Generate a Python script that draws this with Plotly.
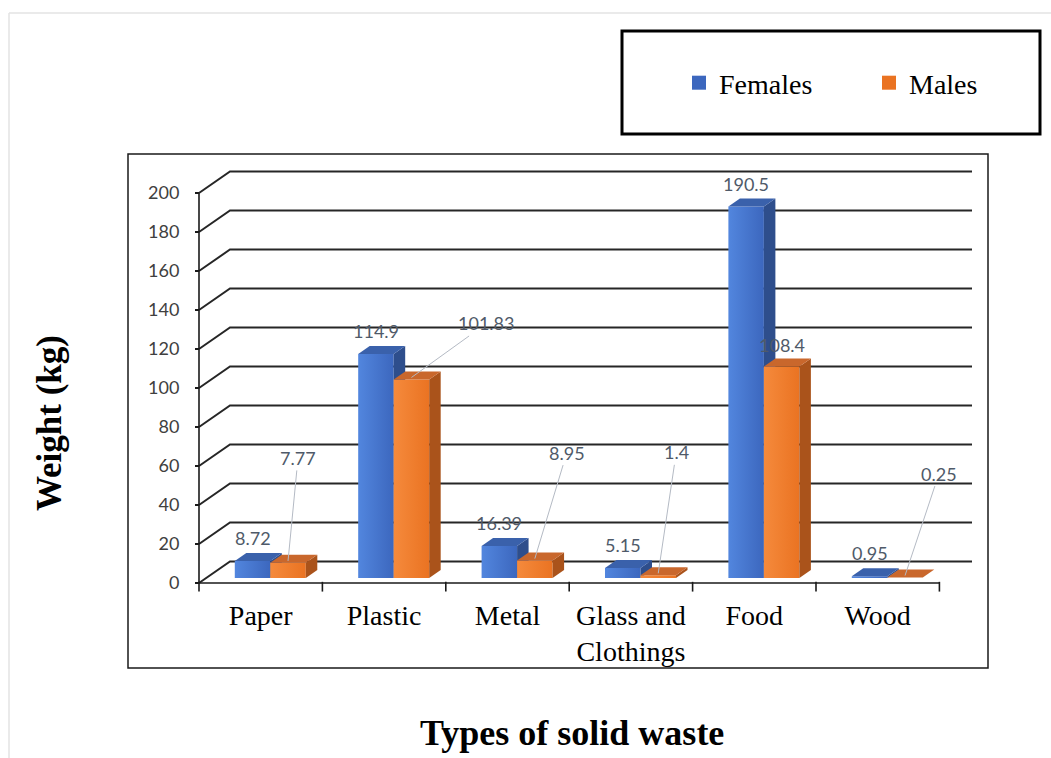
import plotly.graph_objects as go

# ---- data -------------------------------------------------------------
categories = ["Paper", "Plastic", "Metal", "Glass and<br>Clothings", "Food", "Wood"]
females = [8.72, 114.9, 16.39, 5.15, 190.5, 0.95]
males = [7.77, 101.83, 8.95, 1.4, 108.4, 0.25]
value_ticks = [0, 20, 40, 60, 80, 100, 120, 140, 160, 180, 200]

# ---- canvas / axis geometry ------------------------------------------
W, H = 1051, 758
M_L, M_R, M_T, M_B = 128, 63, 154, 90
X_RANGE = [-1.0754, 5.8938]
Y_RANGE = [-43.59, 220.0]
PLOT_W = W - M_L - M_R
PLOT_H = H - M_T - M_B
PX_X = PLOT_W / (X_RANGE[1] - X_RANGE[0])   # pixels per category unit
PX_Y = PLOT_H / (Y_RANGE[1] - Y_RANGE[0])   # pixels per kg

X0 = -0.5                                   # front-left corner of the floor
N = len(categories)
WALL_DX = 31 / PX_X                         # depth of the back wall
WALL_DY = 21.5 / PX_Y
WALL_END = X0 + 773 / PX_X
BAR_BASE = 5 / PX_Y                          # bars stand a little into the depth
BAR_W = 35.5 / PX_X
BAR_DX = 11.5 / PX_X
BAR_DY = 8 / PX_Y
BAR_SHIFT = -0.21                            # left edge of first bar vs category centre

SERIF = "Liberation Serif"
SANS = "Lato"
LABEL_COLOR = "#4F5A69"

STYLE = {
    "Females": dict(front=["#5286DE", "#3C67BE"], side="#2E4E8C", top="#3A61AB"),
    "Males": dict(front=["#F58A3C", "#EA7322"], side="#AA531B", top="#C9672C"),
}

fig = go.Figure()

# ---- walls: left side gridline diagonals + back-wall gridlines --------
gx, gy = [], []
for v in value_ticks:
    gx += [X0, X0 + WALL_DX, WALL_END, None]
    gy += [v, v + WALL_DY, v + WALL_DY, None]
fig.add_trace(go.Scatter(x=gx, y=gy, mode="lines", line=dict(color="#262626", width=2),
                         hoverinfo="skip", showlegend=False))

# front axes (value axis line, category axis line with boundary ticks)
ax_x = [X0, X0, None, X0, X0 + N, None]
ax_y = [0, value_ticks[-1], None, 0, 0, None]
for k in range(N + 1):
    ax_x += [X0 + k, X0 + k, None]
    ax_y += [0.6, -4.4, None]
fig.add_trace(go.Scatter(x=ax_x, y=ax_y, mode="lines", line=dict(color="#1a1a1a", width=1.6),
                         hoverinfo="skip", showlegend=False))


def poly(xs, ys, **kw):
    fig.add_trace(go.Scatter(x=xs + [xs[0]], y=ys + [ys[0]], mode="lines", fill="toself",
                             line=dict(width=0), hoverinfo="skip", showlegend=False, **kw))


# ---- 3D bars ----------------------------------------------------------
for i in range(N):
    for s, (name, vals) in enumerate([("Females", females), ("Males", males)]):
        st = STYLE[name]
        left = i + BAR_SHIFT + s * BAR_W
        right = left + BAR_W
        top = BAR_BASE + vals[i]
        # front face
        poly([left, right, right, left], [BAR_BASE, BAR_BASE, top, top],
             fillgradient=dict(type="horizontal",
                               colorscale=[[0, st["front"][0]], [1, st["front"][1]]]))
        # side face
        poly([right, right + BAR_DX, right + BAR_DX, right],
             [BAR_BASE, BAR_BASE + BAR_DY, top + BAR_DY, top], fillcolor=st["side"])
        # top face
        poly([left, right, right + BAR_DX, left + BAR_DX],
             [top, top, top + BAR_DY, top + BAR_DY], fillcolor=st["top"])

# legend entries
for name in ["Females", "Males"]:
    fig.add_trace(go.Scatter(x=[None], y=[None], mode="markers", name=name,
                             marker=dict(symbol="square", size=14, color=STYLE[name]["front"][1])))

# ---- value labels -----------------------------------------------------
annotations = []
for i in range(N):
    cx = i + BAR_SHIFT + BAR_W / 2
    annotations.append(dict(x=cx, y=BAR_BASE + females[i], text=f"{females[i]:g}",
                            showarrow=False, yanchor="middle", yshift=23,
                            font=dict(family=SANS, size=18, color=LABEL_COLOR)))

# male labels: most sit away from the bar with a leader line (pixel offsets)
male_offsets = [(10, -103), (75, -54), (32, -106), (18, -121), None, (34, -102)]
for i in range(N):
    cx = i + BAR_SHIFT + 1.5 * BAR_W
    top = BAR_BASE + males[i]
    off = male_offsets[i]
    font = dict(family=SANS, size=18, color=LABEL_COLOR)
    if off is None:
        annotations.append(dict(x=cx, y=top, text=f"{males[i]:g}", showarrow=False,
                                yanchor="middle", yshift=22, font=font))
    else:
        annotations.append(dict(x=cx, y=top + 1, text=f"{males[i]:g}", showarrow=True,
                                arrowhead=0, arrowwidth=1, arrowcolor="#B4BAC4",
                                ax=off[0], ay=off[1], standoff=0, font=font))


def px_to_paper_x(p):
    return (p - M_L) / PLOT_W


def px_to_paper_y(p):
    return (H - M_B - p) / PLOT_H


# axis titles
annotations.append(dict(xref="paper", yref="paper", x=px_to_paper_x(50), y=px_to_paper_y(423),
                        xanchor="center", yanchor="middle",
                        text="<b>Weight (kg)</b>", textangle=-90, showarrow=False,
                        font=dict(family=SERIF, size=35, color="black")))
annotations.append(dict(xref="paper", yref="paper", x=px_to_paper_x(572), y=px_to_paper_y(733),
                        xanchor="center", yanchor="middle",
                        text="<b>Types of solid waste</b>", showarrow=False,
                        font=dict(family=SERIF, size=36, color="black")))

shapes = [
    # chart frame
    dict(type="rect", xref="paper", yref="paper", x0=0, x1=1, y0=0, y1=1,
         line=dict(color="#1a1a1a", width=1.5)),
    # legend frame
    dict(type="rect", xref="paper", yref="paper",
         x0=px_to_paper_x(622), x1=px_to_paper_x(1040), y0=px_to_paper_y(134), y1=px_to_paper_y(31),
         line=dict(color="black", width=3)),
    # faint page border
    dict(type="line", xref="paper", yref="paper", x0=px_to_paper_x(9), x1=px_to_paper_x(1060),
         y0=px_to_paper_y(13), y1=px_to_paper_y(13), line=dict(color="#E3E3E3", width=1.5)),
    dict(type="line", xref="paper", yref="paper", x0=px_to_paper_x(9), x1=px_to_paper_x(9),
         y0=px_to_paper_y(13), y1=px_to_paper_y(770), line=dict(color="#E3E3E3", width=1.5)),
]

fig.update_layout(
    width=W, height=H, autosize=False,
    margin=dict(l=M_L, r=M_R, t=M_T, b=M_B, pad=0, autoexpand=False),
    paper_bgcolor="white", plot_bgcolor="white",
    showlegend=True,
    legend=dict(orientation="h", x=px_to_paper_x(679), y=px_to_paper_y(83),
                xanchor="left", yanchor="middle", bgcolor="rgba(0,0,0,0)",
                font=dict(family=SERIF, size=28, color="black"),
                itemwidth=30, entrywidth=145, entrywidthmode="pixels"),
    xaxis=dict(range=X_RANGE, showgrid=False, zeroline=False, showline=False,
               tickmode="array", tickvals=list(range(N)), ticktext=categories, ticks="",
               anchor="free", position=px_to_paper_y(583), ticklabelstandoff=13,
               tickfont=dict(family=SERIF, size=28, color="black"), fixedrange=True),
    yaxis=dict(range=Y_RANGE, showgrid=False, zeroline=False, showline=False,
               tickmode="array", tickvals=value_ticks, ticks="outside", ticklen=4,
               tickcolor="#1a1a1a", tickwidth=1.5,
               anchor="free", position=px_to_paper_x(199), ticklabelstandoff=12,
               tickfont=dict(family=SANS, size=18, color="#404040"), fixedrange=True),
    annotations=annotations,
    shapes=shapes,
)

fig.write_html("out.html")
